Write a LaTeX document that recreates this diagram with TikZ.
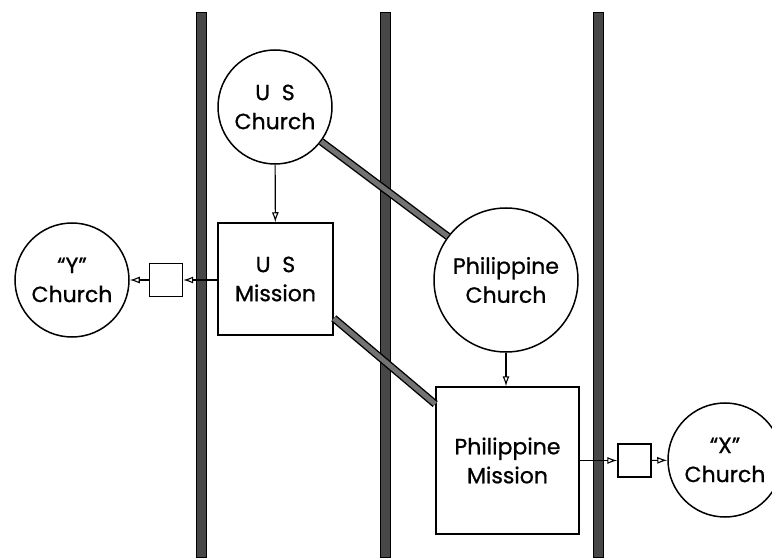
\documentclass[tikz,border=0pt]{standalone}
\usepackage{fontspec}
\setmainfont{Poppins}[FakeBold=0.8]
\usetikzlibrary{arrows.meta,calc}
\begin{document}
\begin{tikzpicture}[x=1pt,y=1pt,
 lbl/.style={font=\fontsize{22}{29}\selectfont, align=center},
 church/.style={lbl,circle,draw,line width=1.5pt,fill=white,inner sep=0pt},
 mission/.style={lbl,rectangle,draw,line width=1.5pt,fill=white,inner sep=0pt},
 sbox/.style={rectangle,draw,line width=1.4pt,fill=white,minimum size=33pt,inner sep=0pt},
 wall/.style={draw=black,fill=black!72,line width=0.6pt},
 link/.style={draw=black,line width=1.4pt,double=black!55,double distance=5pt},
 flow/.style={draw,line width=1.1pt,-{Latex[open,length=10pt,width=7pt,line width=1.1pt]}}
]
\useasboundingbox (0,0) rectangle (772,558);
\begin{scope}
\clip (0,0) rectangle (772,558);
% walls
\path[wall] (196.5,1) rectangle (206.5,546);
\path[wall] (380,1) rectangle (390,546);
\path[wall] (593,1) rectangle (603,546);
% nodes
\node[church,minimum size=114pt] (usc) at (275,451) {U\ \ S\\Church};
\node[mission,minimum width=115pt,minimum height=112pt] (usm) at (275.5,279) {U\ \ S\\Mission};
\node[church,minimum size=114pt] (yc) at (72,278) {“Y”\\Church};
\node[sbox] (sbl) at (166,278) {};
\node[church,minimum size=144pt] (pc) at (506,278) {Philippine\\Church};
\node[mission,minimum width=143pt,minimum height=147pt] (pm) at (507.5,97.5) {Philippine\\Mission};
\node[sbox] (sbr) at (634.5,97.5) {};
\node[church,minimum size=114pt] (xc) at (725,98) {“X”\\Church};
% links
\draw[link] (usc) -- (pc);
\draw[link] (usm.-34) -- (pm.142);
% flows
\draw[flow] (usc) -- (usm);
\draw[flow] (pc.south) -- (pc.south |- pm.north);
\draw[flow] (usm.west |- sbl.east) -- (sbl.east);
\draw[flow] (sbl) -- (yc);
\draw[flow] (pm.east |- sbr.west) -- (sbr.west);
\draw[flow] (sbr) -- (xc);
\end{scope}
\end{tikzpicture}
\end{document}
